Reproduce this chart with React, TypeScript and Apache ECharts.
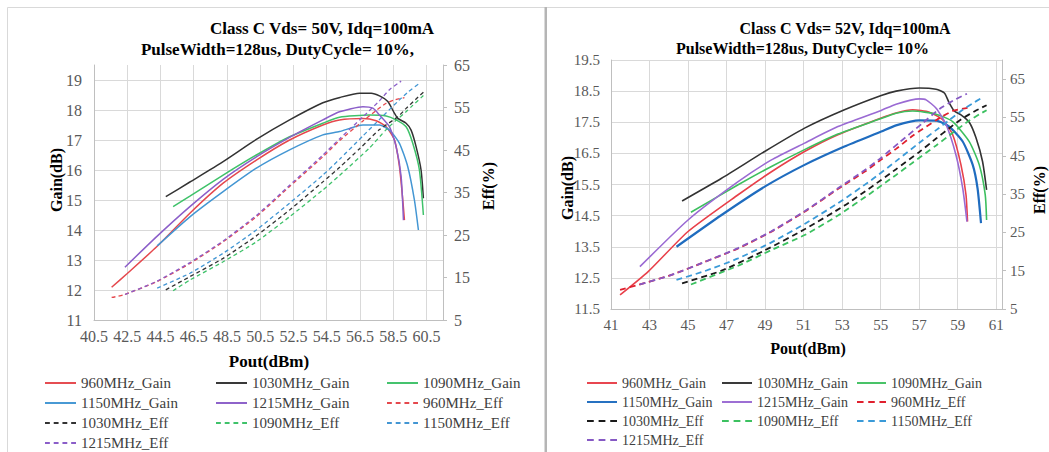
import React, { useEffect, useRef } from "react";
import * as echarts from "echarts";

// ---------------- shared look ----------------
const FONT = '"Liberation Serif", "Times New Roman", serif';
const GRID_COLOR = "#d9d9d9";
const AXIS_COLOR = "#bfbfbf";
const LABEL_COLOR = "#595959";
const LEGEND_COLOR = "#404040";

// ---------------- LEFT panel (Vds = 50 V) ----------------
const L_TITLE = ["Class C Vds= 50V, Idq=100mA", "PulseWidth=128us, DutyCycle= 10%,"];
const L_X_AXIS = { min: 40.5, max: 61.5, step: 2 };
const L_GAIN_AXIS = { min: 11, max: 19.5, step: 1 };
const L_EFF_AXIS = { min: 5, max: 65, step: 10 };

const L_960_GAIN: [number, number][] = [[41.56,12.09],[42.5,12.55],[44.27,13.44],[46.27,14.56],[48.27,15.56],[50.27,16.33],[52.27,17.0],[54.27,17.5],[55.27,17.67],[56.68,17.72],[57.48,17.64],[58.08,17.44],[58.58,17.0],[58.88,16.11],[59.08,15.0],[59.18,14.33]];
const L_1030_GAIN: [number, number][] = [[44.82,15.11],[46.27,15.6],[48.27,16.28],[50.27,17.02],[52.27,17.67],[54.27,18.24],[55.3,18.42],[56.48,18.56],[57.18,18.56],[57.68,18.47],[58.18,18.28],[58.58,17.89],[58.78,17.72],[59.28,17.56],[59.58,17.33],[59.88,16.78],[60.18,16.0],[60.32,15.06]];
const L_1090_GAIN: [number, number][] = [[45.26,14.78],[46.27,15.13],[48.27,15.83],[50.27,16.5],[52.27,17.11],[54.27,17.56],[55.27,17.76],[57.08,17.83],[58.08,17.8],[58.68,17.67],[59.28,17.44],[59.68,16.89],[60.08,16.0],[60.32,14.5]];
const L_1150_GAIN: [number, number][] = [[44.3,13.47],[46.27,14.44],[48.27,15.28],[50.27,16.06],[52.27,16.67],[54.27,17.17],[55.27,17.28],[56.68,17.5],[57.68,17.5],[58.28,17.33],[58.88,16.89],[59.38,16.11],[59.78,15.0],[60.02,14.0]];
const L_1215_GAIN: [number, number][] = [[42.36,12.76],[44.27,13.78],[46.27,14.78],[48.27,15.69],[50.27,16.44],[52.27,17.09],[54.27,17.67],[55.27,17.94],[56.68,18.11],[57.28,18.06],[57.68,17.83],[58.28,17.44],[58.68,16.78],[58.98,15.78],[59.12,14.33]];
const L_960_EFF: [number, number][] = [[41.56,10.3],[42.27,10.9],[44.27,14.0],[46.27,18.3],[48.27,23.4],[50.27,29.3],[52.27,36.4],[54.27,43.4],[55.27,47.2],[56.68,51.8],[57.48,54.3],[58.08,56.0],[58.58,56.8],[59.18,57.3]];
const L_1030_EFF: [number, number][] = [[44.82,12.1],[46.27,15.2],[48.27,19.5],[50.27,24.8],[52.27,30.9],[54.27,37.5],[55.3,41.0],[56.48,45.3],[57.68,49.8],[58.78,52.8],[59.28,54.8],[59.88,57.0],[60.32,58.6]];
const L_1090_EFF: [number, number][] = [[45.26,11.9],[46.27,14.4],[48.27,18.7],[50.27,23.4],[52.27,29.3],[54.27,35.6],[55.27,39.0],[57.08,45.5],[58.08,49.8],[58.68,52.0],[59.28,54.0],[59.68,55.5],[60.32,57.8]];
const L_1150_EFF: [number, number][] = [[44.3,12.5],[46.27,16.0],[48.27,20.7],[50.27,26.2],[52.27,32.5],[54.27,39.1],[55.27,42.8],[56.68,48.3],[57.68,52.2],[58.88,56.8],[59.38,58.6],[60.02,60.5]];
const L_1215_EFF: [number, number][] = [[42.36,11.0],[44.27,14.1],[46.27,18.5],[48.27,23.6],[50.27,29.6],[52.27,36.7],[54.27,43.8],[55.27,47.6],[56.68,52.8],[57.68,56.6],[58.28,59.2],[58.98,61.2]];

// ---------------- RIGHT panel (Vds = 52 V) ----------------
const R_TITLE = ["Class C Vds= 52V, Idq=100mA", "PulseWidth=128us, DutyCycle= 10%"];
const R_X_AXIS = { min: 41, max: 61.3, step: 2 };
const R_GAIN_AXIS = { min: 11.5, max: 19.5, step: 1 };
const R_EFF_AXIS = { min: 5, max: 70, step: 10 };

const R_960_GAIN: [number, number][] = [[41.47,11.95],[42.93,12.7],[45.0,13.99],[47.6,15.17],[49.33,15.91],[51.05,16.56],[52.78,17.1],[55.03,17.64],[55.8,17.8],[56.66,17.9],[57.53,17.82],[58.22,17.58],[58.74,17.1],[59.17,16.13],[59.43,15.17],[59.51,14.31]];
const R_1030_GAIN: [number, number][] = [[44.69,14.97],[46.74,15.7],[48.98,16.56],[51.05,17.31],[53.12,17.9],[55.03,18.36],[55.8,18.5],[57.01,18.6],[57.88,18.56],[58.31,18.44],[58.56,18.12],[58.82,17.86],[59.17,17.74],[59.6,17.5],[59.95,17.0],[60.29,16.24],[60.5,15.33]];
const R_1090_GAIN: [number, number][] = [[45.15,14.61],[47.6,15.49],[49.33,16.08],[51.05,16.62],[52.78,17.12],[55.03,17.62],[55.8,17.79],[56.66,17.86],[57.88,17.76],[58.74,17.52],[59.6,16.88],[60.12,16.13],[60.43,15.17],[60.5,14.36]];
const R_1150_GAIN: [number, number][] = [[44.4,13.5],[46.74,14.52],[48.98,15.43],[51.05,16.13],[53.12,16.72],[55.03,17.2],[55.8,17.4],[57.01,17.56],[57.88,17.55],[58.56,17.36],[59.26,16.88],[59.78,16.13],[60.03,15.38],[60.21,14.26]];
const R_1215_GAIN: [number, number][] = [[42.5,12.86],[45.0,14.36],[47.6,15.59],[49.33,16.29],[51.05,16.83],[52.78,17.36],[55.03,17.88],[55.8,18.08],[57.01,18.25],[57.36,18.22],[57.88,17.95],[58.4,17.42],[58.91,16.45],[59.26,15.38],[59.48,14.31]];
const R_960_EFF: [number, number][] = [[41.47,10.0],[42.41,11.3],[44.14,13.9],[45.87,17.3],[47.6,20.8],[49.33,25.2],[51.05,30.4],[52.78,36.3],[54.16,40.8],[55.03,44.0],[55.8,46.8],[56.66,50.2],[57.88,54.3],[58.74,56.7],[59.51,57.5]];
const R_1030_EFF: [number, number][] = [[44.69,11.7],[46.74,15.0],[48.98,20.3],[51.05,25.8],[53.12,32.0],[54.5,36.8],[55.8,41.5],[57.01,46.0],[57.88,49.5],[58.56,52.2],[59.17,54.5],[59.95,56.8],[60.5,58.2]];
const R_1090_EFF: [number, number][] = [[45.15,11.4],[47.6,16.3],[49.33,20.4],[51.05,24.3],[52.78,29.4],[54.5,35.3],[55.8,40.0],[56.66,43.2],[57.88,47.7],[58.74,51.0],[59.6,54.2],[60.12,55.8],[60.5,56.9]];
const R_1150_EFF: [number, number][] = [[44.4,12.6],[45.87,14.9],[47.6,18.2],[49.33,22.4],[51.05,27.2],[52.78,32.6],[54.5,38.6],[55.8,43.6],[57.01,48.4],[57.88,51.7],[58.56,54.3],[59.26,57.0],[59.78,58.7],[60.21,60.0]];
const R_1215_EFF: [number, number][] = [[42.5,11.4],[44.14,13.9],[45.87,17.3],[47.6,20.9],[49.33,25.3],[51.05,30.5],[52.78,36.5],[54.16,41.2],[55.03,44.5],[56.0,48.6],[57.2,53.6],[58.07,57.3],[58.91,59.8],[59.48,61.2]];

const LEGEND_COLUMNS = [
  ["960MHz_Gain", "1150MHz_Gain", "1030MHz_Eff", "1215MHz_Eff"],
  ["1030MHz_Gain", "1215MHz_Gain", "1090MHz_Eff"],
  ["1090MHz_Gain", "960MHz_Eff", "1150MHz_Eff"],
];

type Ser = { name: string; data: [number, number][]; color: string; width: number; dash?: number[]; axis: number };

function lineSeries(s: Ser) {
  return {
    type: "line",
    name: s.name,
    data: s.data,
    yAxisIndex: s.axis,
    symbol: "none",
    showSymbol: false,
    smooth: 0.2,
    color: s.color,
    lineStyle: { color: s.color, width: s.width, type: s.dash ? s.dash : "solid" },
    emphasis: { disabled: true },
    silent: true,
  };
}

type AxisCfg = { min: number; max: number; step: number };

type PanelCfg = {
  grid: { left: number; top: number; width: number; height: number };
  xAxis: AxisCfg;
  gAxis: AxisCfg;
  eAxis: AxisCfg;
  tickFont: number;
  gMargin: number;
  eMargin: number;
  series: Ser[];
  legendX: number[];
  legendW: number[];
  legendTop: number;
  legendRow: number;
  legendFont: number;
  solidIcon: string;
  dashIcon: string;
  graphic: any[];
};

// tick values on the axis step, from min up to the last step inside max
function stepValues(a: AxisCfg): number[] {
  const out: number[] = [];
  const n = Math.floor((a.max - a.min) / a.step + 1e-6);
  for (let k = 0; k <= n; k++) out.push(Math.round((a.min + k * a.step) * 100) / 100);
  return out;
}

function buildOption(c: PanelCfg) {
  const textBase = { fontFamily: FONT, color: LABEL_COLOR, fontSize: c.tickFont };
  const xVals = stepValues(c.xAxis);
  const gVals = stepValues(c.gAxis);
  return {
    animation: false,
    backgroundColor: "#ffffff",
    grid: { ...c.grid, containLabel: false },
    xAxis: {
      type: "value",
      min: c.xAxis.min,
      max: c.xAxis.max,
      interval: c.xAxis.step,
      axisLine: { show: true, lineStyle: { color: AXIS_COLOR, width: 1 } },
      axisTick: { show: false, customValues: xVals },
      axisLabel: { ...textBase, margin: 8, customValues: xVals },
      splitLine: { show: true, lineStyle: { color: GRID_COLOR, width: 1 } },
    },
    yAxis: [
      {
        type: "value",
        position: "left",
        min: c.gAxis.min,
        max: c.gAxis.max,
        interval: c.gAxis.step,
        axisLine: { show: true, lineStyle: { color: AXIS_COLOR, width: 1 } },
        axisTick: { show: false, customValues: gVals },
        axisLabel: { ...textBase, margin: c.gMargin, customValues: gVals },
        splitLine: { show: true, lineStyle: { color: GRID_COLOR, width: 1 } },
      },
      {
        type: "value",
        position: "right",
        min: c.eAxis.min,
        max: c.eAxis.max,
        interval: c.eAxis.step,
        axisLine: { show: true, lineStyle: { color: AXIS_COLOR, width: 1 } },
        axisTick: { show: true, inside: false, length: 4, lineStyle: { color: AXIS_COLOR }, customValues: stepValues(c.eAxis) },
        axisLabel: { ...textBase, margin: c.eMargin, customValues: stepValues(c.eAxis) },
        splitLine: { show: false },
      },
    ],
    legend: LEGEND_COLUMNS.map((names, i) => ({
      orient: "vertical",
      left: c.legendX[i],
      top: c.legendTop,
      height: 160,
      padding: 0,
      itemGap: 0,
      itemWidth: c.legendW[i],
      itemHeight: 2,
      selectedMode: false,
      itemStyle: { borderWidth: 0 },
      textStyle: { fontFamily: FONT, fontSize: c.legendFont, color: LEGEND_COLOR, lineHeight: c.legendRow },
      data: names.map((n) => ({ name: n, icon: n.endsWith("Eff") ? c.dashIcon : c.solidIcon })),
    })),
    graphic: c.graphic,
    series: c.series.map(lineSeries),
  };
}

function txt(text: string, x: number, y: number, size: number, rotate = 0, bold = true) {
  return {
    type: "text",
    x,
    y,
    rotation: rotate,
    silent: true,
    style: {
      text,
      fill: "#000000",
      font: `${bold ? "bold " : ""}${size}px ${FONT}`,
      align: "center",
      verticalAlign: "middle",
      textAlign: "center",
      textVerticalAlign: "middle",
    },
  };
}

const LEFT_COLORS = { c960: "#e5484d", c1030: "#333333", c1090: "#3fc26a", c1150: "#4396d3", c1215: "#8b5ec9" };

const leftCfg: PanelCfg = {
  grid: { left: 94, top: 65, width: 349, height: 255 },
  xAxis: L_X_AXIS,
  gAxis: L_GAIN_AXIS,
  eAxis: L_EFF_AXIS,
  tickFont: 16,
  gMargin: 12,
  eMargin: 11,
  series: [
    { name: "960MHz_Gain", data: L_960_GAIN, color: LEFT_COLORS.c960, width: 1.5, axis: 0 },
    { name: "1030MHz_Gain", data: L_1030_GAIN, color: LEFT_COLORS.c1030, width: 1.5, axis: 0 },
    { name: "1090MHz_Gain", data: L_1090_GAIN, color: LEFT_COLORS.c1090, width: 1.5, axis: 0 },
    { name: "1150MHz_Gain", data: L_1150_GAIN, color: LEFT_COLORS.c1150, width: 1.5, axis: 0 },
    { name: "1215MHz_Gain", data: L_1215_GAIN, color: LEFT_COLORS.c1215, width: 1.5, axis: 0 },
    { name: "960MHz_Eff", data: L_960_EFF, color: LEFT_COLORS.c960, width: 1.3, dash: [4, 3], axis: 1 },
    { name: "1030MHz_Eff", data: L_1030_EFF, color: LEFT_COLORS.c1030, width: 1.3, dash: [4, 3], axis: 1 },
    { name: "1090MHz_Eff", data: L_1090_EFF, color: LEFT_COLORS.c1090, width: 1.3, dash: [4, 3], axis: 1 },
    { name: "1150MHz_Eff", data: L_1150_EFF, color: LEFT_COLORS.c1150, width: 1.3, dash: [4, 3], axis: 1 },
    { name: "1215MHz_Eff", data: L_1215_EFF, color: LEFT_COLORS.c1215, width: 1.3, dash: [4, 3], axis: 1 },
  ],
  legendX: [45, 216, 387],
  legendW: [31, 31, 31],
  legendTop: 373,
  legendRow: 20,
  legendFont: 15,
  solidIcon: "path://M0,0H32V2H0Z",
  dashIcon: "path://M0,0H5V2H0Z M9,0H14V2H9Z M18,0H23V2H18Z M27,0H32V2H27Z",
  graphic: [
    { type: "rect", silent: true, shape: { x: 7.5, y: 7.5, width: 600, height: 480 }, style: { fill: "none", stroke: "#d9d9d9", lineWidth: 1 } },
    { type: "rect", silent: true, shape: { x: 544.5, y: 7, width: 2.5, height: 450 }, style: { fill: "#b5b5b5" } },
    txt(L_TITLE[0], 322, 28, 17),
    txt(L_TITLE[1], 277.5, 49, 17),
    txt("Gain(dB)", 56, 180, 16, Math.PI / 2),
    txt("Eff(%)", 488, 186, 16, Math.PI / 2),
    txt("Pout(dBm)", 269, 361, 17),
  ],
};

const RIGHT_COLORS = {
  g960: "#e8404a", g1030: "#333333", g1090: "#3dbf5e", g1150: "#1f6cbf", g1215: "#9a6ad3",
  e960: "#e0202e", e1030: "#1a1a1a", e1090: "#3cc160", e1150: "#3a9ad8", e1215: "#8659c4",
};

const rightCfg: PanelCfg = {
  grid: { left: 64, top: 60, width: 391, height: 249 },
  xAxis: R_X_AXIS,
  gAxis: R_GAIN_AXIS,
  eAxis: R_EFF_AXIS,
  tickFont: 15,
  gMargin: 11,
  eMargin: 8,
  series: [
    { name: "960MHz_Gain", data: R_960_GAIN, color: RIGHT_COLORS.g960, width: 1.6, axis: 0 },
    { name: "1030MHz_Gain", data: R_1030_GAIN, color: RIGHT_COLORS.g1030, width: 1.6, axis: 0 },
    { name: "1090MHz_Gain", data: R_1090_GAIN, color: RIGHT_COLORS.g1090, width: 1.6, axis: 0 },
    { name: "1150MHz_Gain", data: R_1150_GAIN, color: RIGHT_COLORS.g1150, width: 2.2, axis: 0 },
    { name: "1215MHz_Gain", data: R_1215_GAIN, color: RIGHT_COLORS.g1215, width: 1.6, axis: 0 },
    { name: "960MHz_Eff", data: R_960_EFF, color: RIGHT_COLORS.e960, width: 1.8, dash: [6, 4], axis: 1 },
    { name: "1030MHz_Eff", data: R_1030_EFF, color: RIGHT_COLORS.e1030, width: 1.8, dash: [6, 4], axis: 1 },
    { name: "1090MHz_Eff", data: R_1090_EFF, color: RIGHT_COLORS.e1090, width: 1.8, dash: [6, 4], axis: 1 },
    { name: "1150MHz_Eff", data: R_1150_EFF, color: RIGHT_COLORS.e1150, width: 1.8, dash: [6, 4], axis: 1 },
    { name: "1215MHz_Eff", data: R_1215_EFF, color: RIGHT_COLORS.e1215, width: 1.8, dash: [6, 4], axis: 1 },
  ],
  legendX: [40, 175, 310],
  legendW: [30, 30, 29],
  legendTop: 373.5,
  legendRow: 19,
  legendFont: 14,
  solidIcon: "path://M0,0H31V2H0Z",
  dashIcon: "path://M0,0H7V2H0Z M12,0H19V2H12Z M24,0H31V2H24Z",
  graphic: [
    { type: "rect", silent: true, shape: { x: -2, y: 7.5, width: 600, height: 480 }, style: { fill: "none", stroke: "#d9d9d9", lineWidth: 1 } },
    txt(R_TITLE[0], 298, 28, 16),
    txt(R_TITLE[1], 255.5, 48, 16),
    txt("Gain(dB)", 20, 188, 16, Math.PI / 2),
    txt("Eff(%)", 492, 190, 16, Math.PI / 2),
    txt("Pout(dBm)", 261, 348, 16),
  ],
};

export default function App() {
  const leftRef = useRef<HTMLDivElement>(null);
  const rightRef = useRef<HTMLDivElement>(null);

  useEffect(() => {
    const l = echarts.init(leftRef.current as HTMLDivElement, undefined, { renderer: "svg" });
    l.setOption(buildOption(leftCfg) as any);
    const r = echarts.init(rightRef.current as HTMLDivElement, undefined, { renderer: "svg" });
    r.setOption(buildOption(rightCfg) as any);
    return () => {
      l.dispose();
      r.dispose();
    };
  }, []);

  return (
    <div style={{ position: "absolute", left: 0, top: 0, width: 1049, height: 452, background: "#ffffff", overflow: "hidden" }}>
      <div ref={leftRef} style={{ position: "absolute", left: 0, top: 0, width: 547, height: 452 }} />
      <div ref={rightRef} style={{ position: "absolute", left: 547, top: 0, width: 502, height: 452 }} />
    </div>
  );
}
